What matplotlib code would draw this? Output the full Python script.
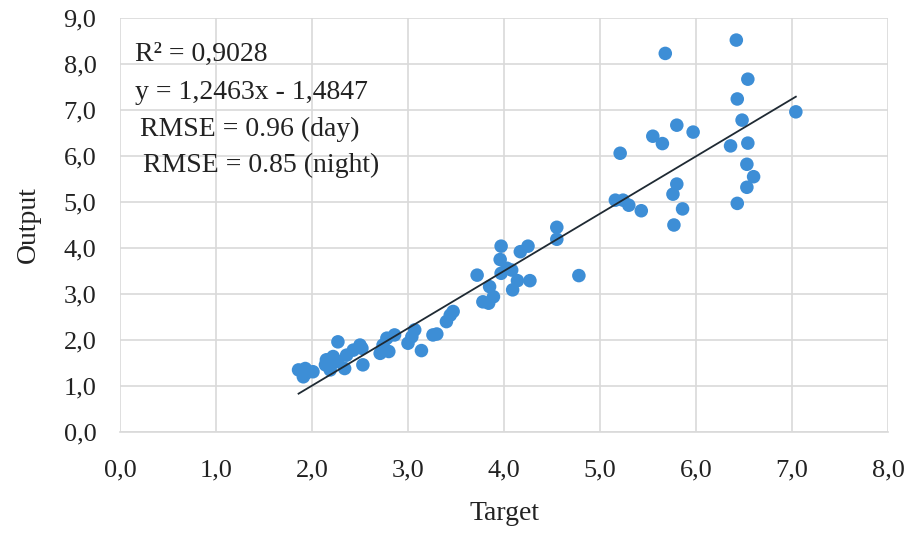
import numpy as np
import matplotlib
matplotlib.use("Agg")
import matplotlib.pyplot as plt
from matplotlib.ticker import FuncFormatter

# Target vs output values
target = [1.86, 1.91, 1.93, 1.94, 2.01, 2.14, 2.15, 2.19, 2.22, 2.27,
          2.27, 2.34, 2.36, 2.43, 2.50, 2.52, 2.53, 2.71, 2.74, 2.78,
          2.80, 2.86, 3.00, 3.04, 3.07, 3.14, 3.26, 3.30, 3.40, 3.44,
          3.47, 3.72, 3.78, 3.84, 3.85, 3.89, 3.96, 3.97, 3.97, 4.03,
          4.08, 4.09, 4.14, 4.17, 4.25, 4.27, 4.55, 4.55, 4.78, 5.16,
          5.21, 5.24, 5.30, 5.43, 5.55, 5.65, 5.68, 5.76, 5.77, 5.80,
          5.80, 5.86, 5.97, 6.36, 6.42, 6.43, 6.43, 6.48, 6.53, 6.53,
          6.54, 6.54, 6.60, 7.04]
output = [1.35, 1.20, 1.38, 1.28, 1.31, 1.46, 1.57, 1.35, 1.64, 1.53,
          1.96, 1.38, 1.67, 1.78, 1.89, 1.82, 1.46, 1.71, 1.89, 2.04,
          1.75, 2.11, 1.93, 2.07, 2.22, 1.77, 2.11, 2.13, 2.40, 2.54,
          2.62, 3.41, 2.83, 2.80, 3.16, 2.94, 3.75, 4.04, 3.45, 3.56,
          3.52, 3.09, 3.29, 3.92, 4.04, 3.29, 4.45, 4.19, 3.40, 5.04,
          6.06, 5.04, 4.93, 4.81, 6.43, 6.27, 8.23, 5.17, 4.50, 6.67,
          5.39, 4.85, 6.52, 6.22, 8.52, 7.24, 4.97, 6.78, 5.82, 5.32,
          7.67, 6.28, 5.55, 6.96]

slope, intercept = 1.2463, -1.4847
stats = ["R\u00b2 = 0,9028", "y = 1,2463x - 1,4847",
         "RMSE = 0.96 (day)", "RMSE = 0.85 (night)"]

plt.rcParams['font.family'] = ['Liberation Serif', 'DejaVu Serif']

fig = plt.figure(figsize=(9.13, 5.36), dpi=100)
ax = fig.add_axes([120 / 913, 1 - 432 / 536, 768 / 913, 414 / 536])

ax.scatter(target, output, s=95, color='#3d8ed6', edgecolors='none', zorder=3)

# trendline over the data range
xs = np.array([min(target), max(target)])
ax.plot(xs, slope * xs + intercept, color='#1f2a33', linewidth=1.3, zorder=4)

ax.set_xlim(0, 8)
ax.set_ylim(0, 9)
ax.set_xticks(np.arange(0, 9, 1))
ax.set_yticks(np.arange(0, 10, 1))
comma = FuncFormatter(lambda v, p: f"{v:.1f}".replace('.', ','))
ax.xaxis.set_major_formatter(comma)
ax.yaxis.set_major_formatter(comma)
ax.grid(True, color='#d9d9d9', linewidth=1.2)
ax.set_axisbelow(True)
for side in ['top', 'right', 'left']:
    ax.spines[side].set_visible(False)
ax.spines['bottom'].set_color('#d9d9d9')
ax.spines['bottom'].set_linewidth(1.2)
ax.tick_params(length=0, labelsize=19, colors='#222222')
ax.tick_params(axis='x', pad=20)
ax.tick_params(axis='y', pad=17)

ax.set_xlabel("Target", fontsize=20, labelpad=14, color='#222222')
ax.set_ylabel("Output", fontsize=20, labelpad=16, color='#222222')

pos = [(0.16, 8.2), (0.16, 7.38), (0.21, 6.57), (0.24, 5.8)]
for (tx, ty), s in zip(pos, stats):
    ax.text(tx, ty, s, fontsize=20, va='center', ha='left', color='#222222')

fig.savefig("out.png", dpi=100)
